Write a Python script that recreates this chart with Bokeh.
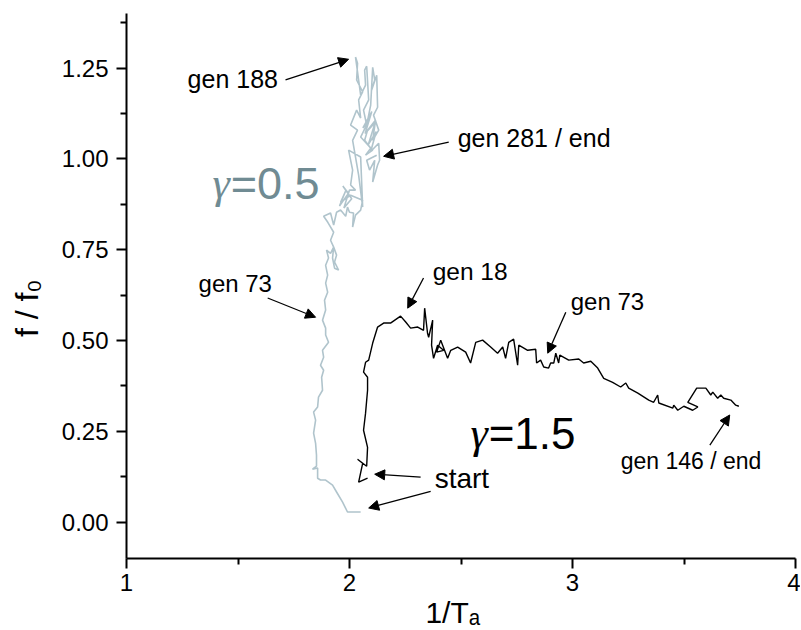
import numpy as np
from bokeh.plotting import figure
from bokeh.models import (Range1d, FixedTicker, Label, Arrow, NormalHead,
                          ColumnDataSource, NumeralTickFormatter)
from bokeh.embed import file_html
from bokeh.resources import INLINE

# ---- data: trajectory for gamma = 0.5 (grey) ----
g05_x = [2.050, 1.991, 1.969, 1.942, 1.924, 1.893, 1.870, 1.857, 1.857, 1.834,
         1.852, 1.852, 1.848, 1.839, 1.848, 1.839, 1.857, 1.861, 1.879, 1.875,
         1.884, 1.870, 1.884, 1.879, 1.906, 1.893, 1.893, 1.879, 1.893, 1.888,
         1.902, 1.893, 1.902, 1.893, 1.906, 1.897, 1.915, 1.929, 1.942, 1.933,
         1.951, 1.933, 1.924, 1.929, 1.915, 1.929, 1.902, 1.884, 1.915, 1.929,
         1.942, 1.960, 1.983, 1.991, 2.000, 2.018, 2.014, 2.027, 2.050, 2.059,
         2.005, 1.960, 1.985, 1.955, 1.995, 1.970, 2.010, 1.975, 2.000,
         2.027, 2.005, 2.014, 1.996, 2.050, 2.059, 2.041, 2.014, 2.036, 2.005,
         2.032, 2.050, 2.041, 2.059, 2.032, 2.036, 2.027, 2.041, 2.050, 2.072,
         2.068, 2.077, 2.086, 2.063, 2.077, 2.095, 2.104, 2.113, 2.099, 2.122,
         2.126, 2.108, 2.131, 2.104, 2.117, 2.081, 2.068, 2.095, 2.072, 2.104,
         2.050, 2.090, 2.060, 2.100, 2.070, 2.115, 2.085, 2.120, 2.095,
         2.131, 2.135, 2.126, 2.104, 2.113, 2.090, 2.077, 2.122]
g05_y = [0.028, 0.028, 0.055, 0.083, 0.102, 0.116, 0.116, 0.121, 0.149, 0.146,
         0.154, 0.184, 0.217, 0.245, 0.281, 0.303, 0.317, 0.344, 0.363, 0.399,
         0.418, 0.432, 0.454, 0.473, 0.495, 0.515, 0.534, 0.556, 0.584, 0.611,
         0.633, 0.658, 0.680, 0.707, 0.727, 0.749, 0.740, 0.757, 0.735, 0.716,
         0.694, 0.699, 0.727, 0.757, 0.776, 0.798, 0.826, 0.842, 0.851, 0.818,
         0.853, 0.859, 0.842, 0.867, 0.853, 0.851, 0.812, 0.845, 0.859, 0.886,
         0.900, 0.880, 0.915, 0.870, 0.905, 0.925, 0.890, 0.865, 0.914,
         0.914, 0.928, 0.969, 1.024, 1.005, 0.867, 0.955, 1.051, 1.079, 1.093,
         1.134, 1.112, 1.162, 1.184, 1.217, 1.263, 1.280, 1.217, 1.175, 1.203,
         1.244, 1.255, 1.162, 1.134, 1.093, 1.148, 1.252, 1.217, 1.189, 1.230,
         1.142, 1.120, 1.079, 1.051, 1.107, 1.079, 1.051, 1.029, 1.010, 1.024,
         1.060, 1.110, 1.085, 1.130, 1.070, 1.100, 1.040, 1.075, 1.020,
         1.043, 0.996, 0.983, 0.936, 0.996, 0.969, 0.996, 1.010]

# ---- data: trajectory for gamma = 1.5 (black) ----
g15_x = [2.081, 2.041, 2.059, 2.036, 2.077, 2.081, 2.063, 2.072, 2.081, 2.081,
         2.063, 2.072, 2.086, 2.104, 2.126, 2.153, 2.184, 2.229, 2.252, 2.274,
         2.306, 2.332, 2.337, 2.350, 2.355, 2.373, 2.368, 2.377, 2.395, 2.422,
         2.391, 2.409, 2.440, 2.454, 2.485, 2.521, 2.543, 2.566, 2.597, 2.633,
         2.664, 2.687, 2.700, 2.714, 2.736, 2.754, 2.759, 2.799, 2.835, 2.839,
         2.857, 2.871, 2.893, 2.902, 2.916, 2.925, 2.938, 2.943, 2.983, 3.028,
         3.050, 3.082, 3.113, 3.140, 3.180, 3.216, 3.239, 3.252, 3.293, 3.342,
         3.364, 3.382, 3.387, 3.450, 3.454, 3.472, 3.499, 3.539, 3.562, 3.517,
         3.557, 3.598, 3.620, 3.629, 3.651, 3.665, 3.678, 3.710, 3.732, 3.746]
g15_y = [0.121, 0.110, 0.162, 0.173, 0.154, 0.206, 0.253, 0.300, 0.363, 0.399,
         0.413, 0.440, 0.446, 0.493, 0.537, 0.548, 0.548, 0.567, 0.551, 0.534,
         0.537, 0.528, 0.589, 0.520, 0.509, 0.556, 0.487, 0.451, 0.487, 0.473,
         0.468, 0.501, 0.451, 0.473, 0.482, 0.468, 0.438, 0.495, 0.501, 0.482,
         0.465, 0.482, 0.451, 0.495, 0.504, 0.432, 0.487, 0.473, 0.476, 0.438,
         0.446, 0.427, 0.424, 0.438, 0.438, 0.465, 0.438, 0.460, 0.446, 0.449,
         0.438, 0.443, 0.424, 0.396, 0.385, 0.372, 0.383, 0.369, 0.355, 0.336,
         0.330, 0.350, 0.328, 0.314, 0.322, 0.308, 0.319, 0.308, 0.317, 0.330,
         0.369, 0.369, 0.350, 0.358, 0.341, 0.350, 0.341, 0.336, 0.322, 0.319]

# ---- axes ----
x_ticks = [1, 2, 3, 4]
x_minor = [1.5, 2.5, 3.5]
y_ticks = [0.0, 0.25, 0.5, 0.75, 1.0, 1.25]
y_minor = [0.125, 0.375, 0.625, 0.875, 1.125, 1.375]

# ---- annotations ----
ann_text = ["gen 188", "gen 281 / end", "gen 73", "gen 18", "gen 73", "gen 146 / end"]
ann_size = ["25px", "25px", "24px", "24.5px", "24px", "23px"]
ann_x = [1.274, 2.485, 1.323, 2.373, 2.992, 3.216]
ann_y = [1.219, 1.057, 0.658, 0.691, 0.606, 0.168]

arr_x0 = [1.713, 2.445, 1.633, 2.332, 2.970, 3.616, 2.319, 2.364]
arr_y0 = [1.217, 1.046, 0.617, 0.672, 0.578, 0.212, 0.124, 0.085]
arr_x1 = [1.996, 2.153, 1.848, 2.261, 2.889, 3.705, 2.113, 2.086]
arr_y1 = [1.274, 1.007, 0.564, 0.589, 0.465, 0.295, 0.132, 0.039]

GREY = "#b0c4cc"
GREY_TXT = "#708b93"
FONT = "Liberation Sans"
NBSP = "\u00a0"

p = figure(frame_width=669, frame_height=545,
           x_range=Range1d(1, 4), y_range=Range1d(-0.1, 1.4),
           output_backend="svg", toolbar_location=None,
           min_border_left=126, min_border_right=5,
           min_border_top=13, min_border_bottom=71)
p.outline_line_color = None
p.grid.visible = False
p.background_fill_color = "white"

p.xaxis.ticker = FixedTicker(ticks=x_ticks, minor_ticks=x_minor)
p.yaxis.ticker = FixedTicker(ticks=y_ticks, minor_ticks=y_minor)
p.yaxis.formatter = NumeralTickFormatter(format="0.00")
for ax in p.axis:
    ax.axis_line_width = 2
    ax.axis_line_color = "black"
    ax.major_tick_line_width = 2
    ax.minor_tick_line_width = 2
    ax.major_tick_out = 10
    ax.major_tick_in = 0
    ax.minor_tick_out = 6
    ax.minor_tick_in = 0
    ax.major_label_text_font = FONT
    ax.major_label_text_font_size = "24px"
    ax.major_label_text_color = "black"
    ax.axis_label_text_font = FONT
    ax.axis_label_text_font_style = "normal"
    ax.axis_label_text_color = "black"
p.yaxis.major_label_standoff = 8
p.xaxis.major_label_standoff = 5
p.xaxis.axis_label = "1/T\u2090" + NBSP * 2
p.yaxis.axis_label = "f / f\u2080" + NBSP * 5
p.xaxis.axis_label_text_font_size = "30px"
p.yaxis.axis_label_text_font_size = "32px"
p.xaxis.axis_label_standoff = 2
p.yaxis.axis_label_standoff = 14

p.line(g05_x, g05_y, line_color=GREY, line_width=1.6)
p.line(g15_x, g15_y, line_color="black", line_width=1.4)

src = ColumnDataSource(dict(x0=arr_x0, y0=arr_y0, x1=arr_x1, y1=arr_y1))
p.add_layout(Arrow(end=NormalHead(size=10, fill_color="black", line_color="black", line_width=1),
                   x_start="x0", y_start="y0", x_end="x1", y_end="y1",
                   source=src, line_width=1.3, line_color="black"))

for t, s, x, y in zip(ann_text, ann_size, ann_x, ann_y):
    p.add_layout(Label(x=x, y=y, text=t, text_font=FONT, text_font_size=s,
                       text_baseline="middle", text_align="left", text_color="black"))

p.add_layout(Label(x=2.382, y=0.121, text="start", text_font=FONT, text_font_size="28px",
                   text_baseline="middle", text_align="left", text_color="black"))

# gamma labels
p.add_layout(Label(x=1.386, y=0.933, text="γ", text_font="Liberation Serif",
                   text_font_style="italic", text_font_size="44px",
                   text_baseline="alphabetic", text_color=GREY_TXT))
p.add_layout(Label(x=1.467, y=0.933, text="=0.5", text_font=FONT, text_font_size="45px",
                   text_baseline="alphabetic", text_color=GREY_TXT))
p.add_layout(Label(x=2.543, y=0.245, text="γ", text_font="Liberation Serif",
                   text_font_style="italic", text_font_size="44px",
                   text_baseline="alphabetic", text_color="black"))
p.add_layout(Label(x=2.624, y=0.245, text="=1.5", text_font=FONT, text_font_size="44px",
                   text_baseline="alphabetic", text_color="black"))

open("out.html", "w").write(file_html(p, INLINE))
